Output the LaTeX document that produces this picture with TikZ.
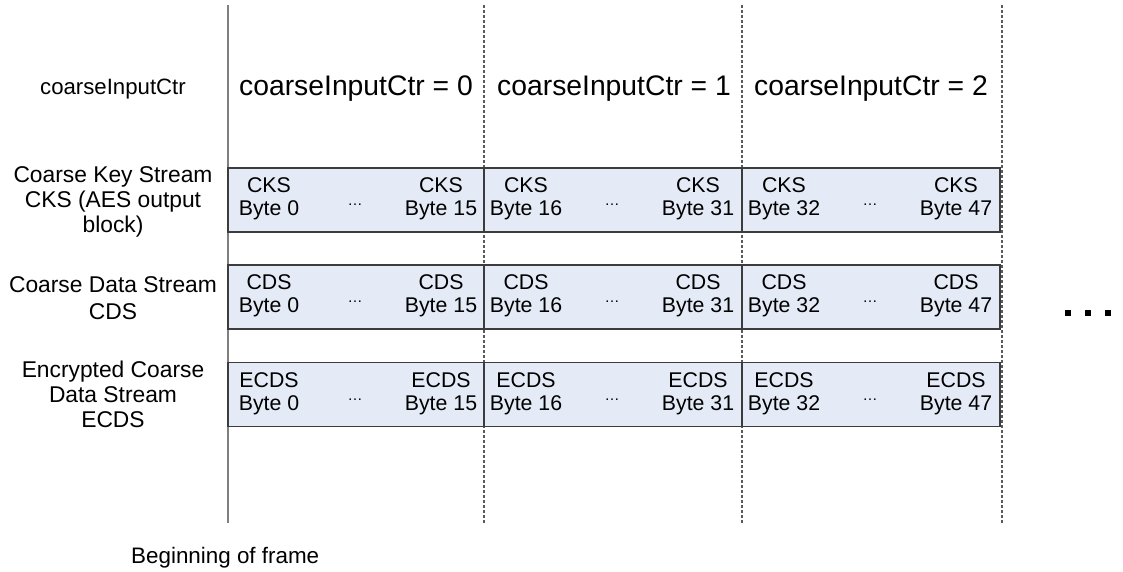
\documentclass[tikz,border=0pt]{standalone}
\usepackage{fontspec}
\setmainfont{Liberation Sans}
\definecolor{boxfill}{HTML}{E4EBF6}
\definecolor{boxline}{HTML}{3C3C3C}
\definecolor{solidline}{HTML}{7F7F7F}
\definecolor{dashline}{HTML}{5A5A5A}
\begin{document}
\begin{tikzpicture}[x=1pt,y=-1pt,
  lbl/.style={align=center, font=\fontsize{22.8}{25}\selectfont, inner sep=0pt},
  toplbl/.style={font=\fontsize{28.3}{32}\selectfont, inner sep=0pt},
  cellbox/.style={draw=boxline, fill=boxfill, line width=1.3pt, minimum height=64pt, inner sep=0pt},
  bytetxt/.style={align=center, font=\fontsize{21.3}{23}\selectfont, inner sep=0pt},
  smalldots/.style={font=\fontsize{15}{15}\selectfont, inner sep=0pt},
  frameline/.style={draw=solidline, line width=1.4pt},
  divline/.style={draw=dashline, line width=1.1pt, dash pattern=on 3pt off 2pt},
  bigdot/.style={fill=black, minimum size=6pt, inner sep=0pt}]
\useasboundingbox (0,0) rectangle (1123,571);
% vertical lines
\coordinate (s0) at (228,5);   \coordinate (e0) at (228,523);
\coordinate (s1) at (484,5);   \coordinate (e1) at (484,523);
\coordinate (s2) at (742,5);   \coordinate (e2) at (742,523);
\coordinate (s3) at (1002,5);  \coordinate (e3) at (1002,523);
\draw[frameline] (s0) -- (e0);
\draw[divline] (s1) -- (e1);
\draw[divline] (s2) -- (e2);
\draw[divline] (s3) -- (e3);
% row labels
\node[lbl, font=\fontsize{22.2}{25}\selectfont] (lctr) at (113,89) {coarseInputCtr};
\node[lbl] (lcks) at (113,202) {Coarse Key Stream\\CKS (AES output\\block)};
\node[lbl, font=\fontsize{22.8}{26.5}\selectfont] (lcds) at (113,298) {Coarse Data Stream\\CDS};
\node[lbl] (lecds) at (113,394) {Encrypted Coarse\\Data Stream\\ECDS};
% column labels
\node[toplbl] (t0) at (356,89) {coarseInputCtr = 0};
\node[toplbl] (t1) at (614,89) {coarseInputCtr = 1};
\node[toplbl] (t2) at (871,89) {coarseInputCtr = 2};
% cells
\foreach \rn/\rt/\ry in {cks/CKS/200, cds/CDS/297, ecds/ECDS/394.5}{
  \foreach \c/\cx/\w/\lo/\hi in {0/356/256/0/15, 1/613/258/16/31, 2/871/258/32/47}{
    \node[cellbox, minimum width=\w pt] (\rn\c) at (\cx,\ry) {};
    \node[bytetxt] (\rn\c a) at (\cx-87,\ry-1) {\rt\\Byte \lo};
    \node[bytetxt] (\rn\c b) at (\cx+85,\ry-1) {\rt\\Byte \hi};
    \node[smalldots] (\rn\c d) at (\cx-1,\ry+5) {\textellipsis};
  }
}
% continuation dots
\node[bigdot] (m1) at (1068,313) {};
\node[bigdot] (m2) at (1088,313) {};
\node[bigdot] (m3) at (1108,313) {};
% bottom label
\node[lbl, font=\fontsize{22.4}{25}\selectfont, anchor=west] (bof) at (131,558) {Beginning of frame};
\end{tikzpicture}
\end{document}
